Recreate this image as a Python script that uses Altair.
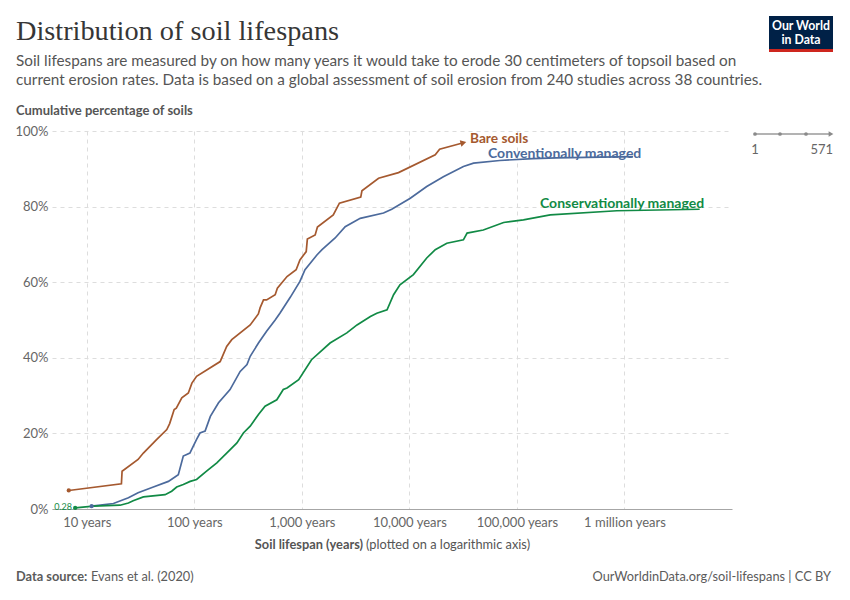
import altair as alt
import pandas as pd

# ---------------- data ----------------
series_names = ["Bare soils", "Conventionally managed", "Conservationally managed"]
series_colors = ["#A5592F", "#4C6A9C", "#118A45"]

bare_years = [6.8, 21, 21.3, 30, 33.6, 44.8, 55.5, 59, 65, 68, 76.5, 88, 95, 105, 174, 200, 223,
              331, 394, 409, 440, 470, 565, 592, 728, 885, 960, 1098, 1125, 1330, 1396, 1960, 2235,
              3530, 3620, 5170, 7920, 17400, 19100, 31800]
bare_pct = [4.9, 6.65, 10.0, 13.1, 14.8, 18.4, 21.0, 22.6, 26.3, 26.7, 29.4, 30.7, 33.3, 35.1, 39.0, 43.0, 44.8,
            48.7, 51.6, 53.2, 55.3, 55.3, 56.7, 58.4, 61.5, 63.3, 65.9, 68.1, 71.4, 72.5, 74.6, 77.8, 80.9,
            82.5, 84.2, 87.5, 89.0, 93.7, 95.2, 96.9]

conv_years = [11.1, 17.7, 24.4, 30, 41.6, 57.4, 71, 79, 91, 105, 113, 126, 141, 168, 215, 267, 309, 331,
              395, 470, 565, 625, 780, 960, 1070, 1380, 1540, 2040, 2530, 3490, 5750, 6850, 10200,
              14500, 20700, 31800, 39500, 69300, 141000, 234000, 600000, 1200000]
conv_pct = [0.74, 1.45, 2.96, 4.3, 5.8, 7.3, 9.1, 14.0, 14.8, 18.4, 20.1, 20.6, 24.5, 28.1, 31.6, 36.4, 38.2, 40.4,
            43.9, 47.0, 50.0, 51.8, 56.0, 60.2, 63.3, 67.2, 68.6, 71.7, 74.7, 76.9, 78.3, 79.3, 82.2,
            85.3, 87.9, 90.6, 91.5, 92.2, 92.7, 92.9, 93.1, 93.2]

cons_years = [7.8, 11.5, 20.4, 24.4, 27, 33.6, 53.5, 61.6, 68.6, 79, 91.6, 105, 130, 162, 200, 249, 286,
              331, 395, 455, 585, 672, 728, 935, 1230, 1830, 2620, 3260, 4340, 4980, 6200, 7130, 8170,
              10900, 14500, 17400, 22300, 31800, 34400, 48700, 75200, 115000, 204000, 850000, 5000000]
cons_pct = [0.28, 0.74, 1.0, 1.6, 2.2, 3.2, 3.8, 4.7, 5.8, 6.5, 7.3, 7.8, 10.0, 12.2, 14.8, 17.5, 20.1,
            21.9, 25.0, 27.2, 28.9, 31.6, 32.0, 34.2, 39.5, 43.9, 46.6, 48.7, 50.9, 51.8, 52.7, 56.7, 59.3,
            62.0, 66.4, 68.6, 70.3, 71.2, 73.0, 73.8, 75.8, 76.5, 77.8, 78.9, 79.3]

x_ticks = [10, 100, 1000, 10000, 100000, 1000000]
y_ticks = [0, 20, 40, 60, 80, 100]

# ---------------- build table ----------------
rows = []
for name, ys, ps in zip(series_names, [bare_years, conv_years, cons_years], [bare_pct, conv_pct, cons_pct]):
    for i, (a, b) in enumerate(zip(ys, ps)):
        rows.append({"series": name, "years": a, "pct": b, "order": i})
df = pd.DataFrame(rows)
first_df = df[df["order"] == 0]
bare_last = df[df["series"] == "Bare soils"].tail(1)

PL, PT = 52, 131  # page position of plot origin
W, H = 680, 378

color_scale = alt.Scale(domain=series_names, range=series_colors)
x_enc = alt.X("years:Q",
              scale=alt.Scale(type="log", domain=[4.75, 1.0e7], nice=False),
              axis=alt.Axis(values=x_ticks, title=None, ticks=False, labelPadding=7,
                            labelExpr="datum.value == 1000000 ? '1 million years' : format(datum.value, ',') + ' years'",
                            grid=True, gridDash=[4, 4], gridColor="#dddddd",
                            domain=True, domainColor="#a6a6a6", labelFlush=False))
y_enc = alt.Y("pct:Q",
              scale=alt.Scale(domain=[0, 100], nice=False),
              axis=alt.Axis(values=y_ticks, title=None, ticks=False, labelPadding=4,
                            labelExpr="datum.value + '%'", grid=True, gridDash=[4, 4],
                            gridColor="#dddddd", domain=False))

lines = alt.Chart(df).mark_line(strokeWidth=1.7).encode(
    x=x_enc, y=y_enc,
    color=alt.Color("series:N", scale=color_scale, legend=None),
    order="order:Q",
)
starts = alt.Chart(first_df).mark_point(filled=True, size=18, opacity=1).encode(
    x="years:Q", y="pct:Q", color=alt.Color("series:N", scale=color_scale, legend=None))
arrow = alt.Chart(bare_last).mark_point(filled=True, shape="triangle-right", size=45, angle=346,
                                        opacity=1).encode(
    x="years:Q", y="pct:Q", color=alt.Color("series:N", scale=color_scale, legend=None))


def txt(text, x, y, size=13, color="#5b5b5b", weight="normal", align="left", font="Lato",
        baseline="middle"):
    return alt.Chart(pd.DataFrame({"t": [text]})).mark_text(
        align=align, baseline=baseline, fontSize=size, font=font, fontWeight=weight, color=color
    ).encode(text="t:N", x=alt.value(x - PL), y=alt.value(y - PT))


ann = [
    txt("Distribution of soil lifespans", 16, 32, size=28.3, color="#363636", font="Liberation Serif"),
    txt("Soil lifespans are measured by on how many years it would take to erode 30 centimeters of topsoil based on",
        16, 61, size=15.3, color="#555555"),
    txt("current erosion rates. Data is based on a global assessment of soil erosion from 240 studies across 38 countries.",
        16, 80, size=15.3, color="#555555"),
    txt("Cumulative percentage of soils", 16, 111, size=13, color="#555555", weight="bold"),
    txt("Soil lifespan (years)", 363, 545, size=12.8, color="#555555", weight="bold", align="right"),
    txt("(plotted on a logarithmic axis)", 366, 545, size=12.8, color="#555555"),
    txt("Data source:", 16, 577, size=12.8, color="#5b5b5b", weight="bold"),
    txt("Evans et al. (2020)", 91, 577, size=12.8, color="#5b5b5b"),
    txt("OurWorldinData.org/soil-lifespans | CC BY", 831, 577, size=12.8, color="#5b5b5b", align="right"),
    txt("Bare soils", 470, 138.5, size=13.7, color=series_colors[0], weight="bold"),
    txt("Conventionally managed", 488, 154, size=14, color=series_colors[1], weight="bold"),
    txt("Conservationally managed", 540, 204, size=14, color=series_colors[2], weight="bold"),
    txt("0.28", 72, 507, size=9, color=series_colors[2], align="right"),
    txt("1", 755, 150, size=13, color="#666666", align="center"),
    txt("571", 833, 150, size=13, color="#666666", align="right"),
]

# OWID logo
logo_bg = alt.Chart(pd.DataFrame({"a": [1]})).mark_rect(color="#002147").encode(
    x=alt.value(769 - PL), x2=alt.value(833 - PL), y=alt.value(16 - PT), y2=alt.value(49 - PT))
logo_red = alt.Chart(pd.DataFrame({"a": [1]})).mark_rect(color="#CE261E").encode(
    x=alt.value(769 - PL), x2=alt.value(833 - PL), y=alt.value(49 - PT), y2=alt.value(52 - PT))
logo_t1 = txt("Our World", 801, 26, size=12.3, color="#ffffff", weight="bold", align="center")
logo_t2 = txt("in Data", 801, 40, size=12.3, color="#ffffff", weight="bold", align="center")

# timeline widget
tl_line = alt.Chart(pd.DataFrame({"a": [1]})).mark_rule(color="#9a9a9a", strokeWidth=1.5).encode(
    x=alt.value(755 - PL), x2=alt.value(830 - PL), y=alt.value(134 - PT))
tl_dots = alt.layer(*[
    alt.Chart(pd.DataFrame({"a": [1]})).mark_point(filled=True, size=14, color="#8a8a8a", opacity=1).encode(
        x=alt.value(px - PL), y=alt.value(134 - PT)) for px in [755, 780, 806]
])
tl_arrow = alt.Chart(pd.DataFrame({"a": [1]})).mark_point(
    filled=True, shape="triangle-right", size=30, color="#8a8a8a", opacity=1).encode(
    x=alt.value(831 - PL), y=alt.value(134 - PT))

chart = alt.layer(
    lines, starts, arrow, *ann, logo_bg, logo_red, logo_t1, logo_t2, tl_line, tl_dots, tl_arrow
).properties(
    width=W, height=H,
    autosize=alt.AutoSizeParams(type="none"),
    padding={"left": PL - 8, "top": PT - 8, "right": 850 - 16 - (PL - 8) - W, "bottom": 600 - 16 - (PT - 8) - H},
    background="#ffffff",
).configure_view(stroke=None).configure_axis(
    labelFont="Lato", labelFontSize=13, labelColor="#666666"
)

chart.save("out.html", embed_options={"renderer": "svg", "actions": False})
